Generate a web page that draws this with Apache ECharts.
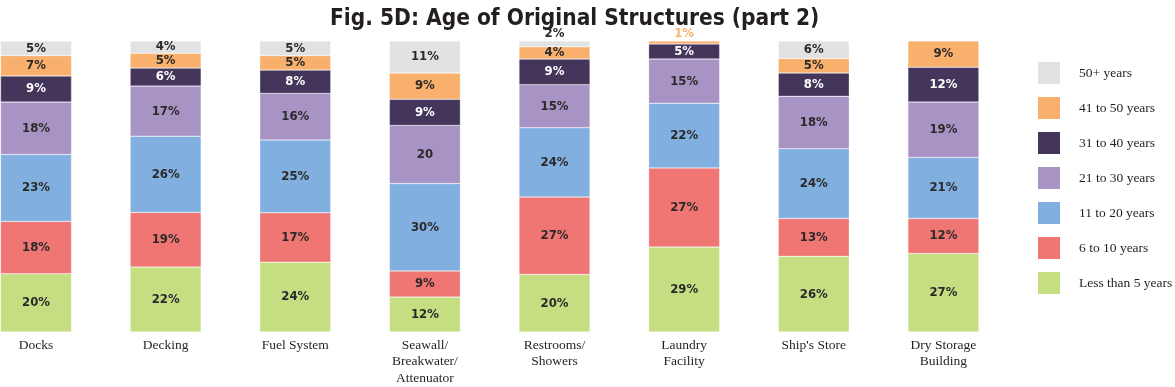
<!DOCTYPE html>
<html>
<head>
<meta charset="utf-8">
<script src="https://cdn.jsdelivr.net/npm/echarts@6/dist/echarts.min.js"></script>
<style>
html,body{margin:0;padding:0;background:#fff;}
#chart{width:1175px;height:387px;}
</style>
</head>
<body>
<div id="chart"></div>
<script>
const categories = ['Docks', 'Decking', 'Fuel System', 'Seawall/\nBreakwater/\nAttenuator', 'Restrooms/\nShowers', 'Laundry\nFacility', "Ship's Store", 'Dry Storage\nBuilding'];
const seriesNames = ['Less than 5 years', '6 to 10 years', '11 to 20 years', '21 to 30 years', '31 to 40 years', '41 to 50 years', '50+ years'];
const lessThan5 = [20, 22.3, 24, 12, 19.8, 29.2, 26, 27];
const y6to10 = [18, 18.8, 17, 9, 26.6, 27.2, 13, 12];
const y11to20 = [23, 26.2, 25, 30, 23.8, 22.2, 24, 21];
const y21to30 = [18, 17.2, 16, 20, 14.8, 15.2, 18, 19];
const y31to40 = [9, 6.2, 8, 9, 8.8, 5.2, 8, 12];
const y41to50 = [7, 5.1, 5, 9, 4.2, 1.0, 5, 9];
const y50plus = [5, 4.2, 5, 11, 2.0, null, 6, null];

const colors = ['#c6de82', '#ef7672', '#80afe0', '#a893c5', '#44355a', '#f8b06c', '#e1e2e3'];
const values = [lessThan5, y6to10, y11to20, y21to30, y31to40, y41to50, y50plus];

const labelFont = 'DejaVu Sans Condensed';
const serifFont = 'Liberation Serif';

function makeData(arr, si) {
  return arr.map((v, i) => {
    if (v === null) return null;
    const item = { value: v };
    // Seawall 21-30 label printed without percent sign
    if (si === 3 && i === 3) item.label = { formatter: '20' };
    // Restrooms 50+ label sits above the bar
    if (si === 6 && i === 4) item.label = { position: 'top', distance: 1 };
    // Laundry 41-50 label sits above the bar in orange
    if (si === 5 && i === 5) item.label = { position: 'top', distance: 1, color: '#f8b06c' };
    return item;
  });
}

const series = values.map((arr, si) => ({
  name: seriesNames[si],
  type: 'bar',
  stack: 'total',
  barWidth: 71,
  data: makeData(arr, si),
  itemStyle: { color: colors[si], borderColor: 'rgba(255,255,255,0.6)', borderWidth: 0.5 },
  label: {
    show: true,
    position: 'inside',
    formatter: p => Math.round(p.value) + '%',
    color: si === 4 ? '#ffffff' : '#2a2a2a',
    fontFamily: labelFont,
    fontWeight: 'bold',
    fontSize: 13
  },
  emphasis: { disabled: true }
}));

const chart = echarts.init(document.getElementById('chart'));
chart.setOption({
  animation: false,
  title: {
    text: 'Fig. 5D: Age of Original Structures (part 2)',
    left: 325,
    top: 3,
    textStyle: { fontFamily: labelFont, fontWeight: 'bold', fontSize: 22.5, color: '#231f20' }
  },
  legend: {
    orient: 'vertical',
    left: 1033,
    top: 57,
    itemWidth: 22,
    itemHeight: 22,
    itemGap: 13,
    icon: 'rect',
    data: seriesNames.slice().reverse(),
    itemStyle: { borderWidth: 0 },
    textStyle: { fontFamily: serifFont, fontSize: 13.5, color: '#231f20', padding: [0, 0, 0, 14] }
  },
  grid: { left: -28.8, width: 1037, top: 41, bottom: 55, containLabel: false, outerBoundsMode: 'none' },
  xAxis: {
    type: 'category',
    data: categories,
    axisLine: { show: false },
    axisTick: { show: false },
    axisLabel: { fontFamily: serifFont, fontSize: 13.5, color: '#231f20', margin: 5, lineHeight: 16.5, interval: 0 }
  },
  yAxis: { type: 'value', min: 0, max: 100, show: false, splitLine: { show: false } },
  series: series
});
</script>
</body>
</html>
